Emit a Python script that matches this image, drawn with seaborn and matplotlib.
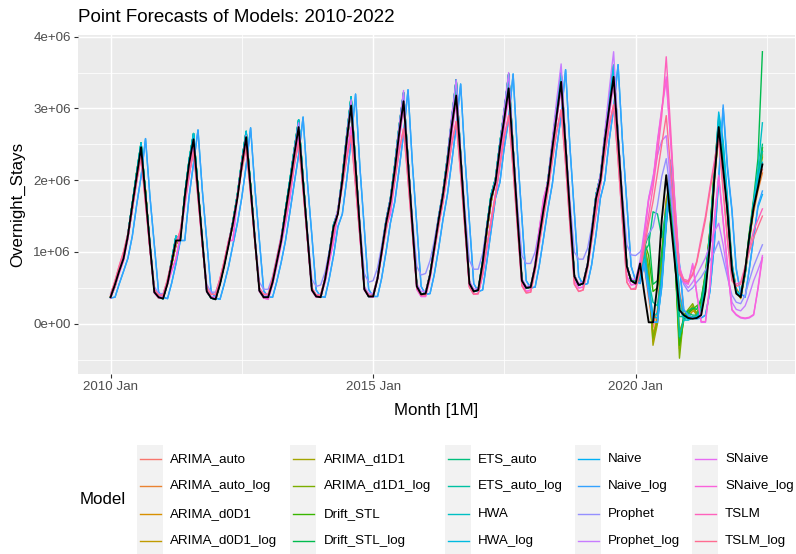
import numpy as np
import pandas as pd
import matplotlib
matplotlib.use("Agg")
import matplotlib.pyplot as plt
import matplotlib.dates as mdates
from matplotlib.lines import Line2D
from matplotlib.patches import Rectangle
from matplotlib.ticker import FixedLocator, FuncFormatter
import seaborn as sns

plt.rcParams["font.family"] = ["Liberation Sans", "DejaVu Sans"]

# ---------------- data (values in units of 10,000 overnight stays) ----------------
months = pd.date_range("2010-01-01", "2022-06-01", freq="MS")

actual = [
    37, 55, 73, 91, 122, 165, 205, 246, 179, 111, 44, 37,
    35, 56, 84, 116, 116, 177, 223, 257, 186, 116, 45, 36,
    34, 55, 80, 110, 140, 175, 220, 260, 189, 117, 46, 37,
    37, 58, 85, 115, 155, 195, 235, 274, 198, 123, 47, 38,
    37, 62, 95, 135, 153, 200, 255, 304, 219, 133, 48, 38,
    38, 63, 100, 140, 170, 215, 265, 310, 224, 138, 52, 41,
    42, 68, 105, 145, 180, 225, 275, 318, 231, 143, 56, 45,
    47, 85, 130, 175, 197, 245, 285, 328, 239, 149, 60, 50,
    51, 80, 120, 160, 195, 245, 290, 337, 247, 156, 66, 54,
    56, 82, 125, 175, 200, 255, 300, 344, 256, 168, 80, 60,
    56, 84, 43, 2, 2, 55, 145, 207, 144, 82, 19, 12,
    8, 7, 8, 12, 45, 110, 200, 274, 215, 157, 75, 42,
    37, 75, 120, 162, 190, 222,
]

# 2010-2019 fitted values shared by groups of models that overlap in the chart
pre_close = [
    38, 52, 75, 93, 120, 160, 210, 240, 185, 108, 47, 36,
    36, 58, 82, 110, 125, 170, 225, 252, 190, 112, 47, 37,
    35, 57, 82, 112, 138, 178, 218, 255, 192, 115, 48, 36,
    36, 60, 86, 118, 150, 192, 238, 270, 200, 120, 49, 38,
    38, 61, 93, 130, 158, 198, 252, 298, 222, 130, 50, 39,
    38, 64, 99, 138, 172, 212, 263, 306, 228, 135, 53, 41,
    43, 69, 104, 146, 178, 222, 272, 314, 234, 140, 57, 45,
    47, 80, 126, 170, 200, 240, 283, 325, 242, 146, 61, 50,
    51, 80, 121, 162, 195, 242, 288, 332, 250, 153, 67, 54,
    56, 83, 124, 172, 202, 252, 298, 340, 258, 165, 80, 60,
]
pre_high = [
    37, 55, 74, 92, 124, 168, 210, 252, 182, 112, 45, 37,
    35, 57, 88, 122, 118, 180, 228, 265, 190, 116, 45, 36,
    34, 56, 82, 112, 143, 180, 226, 268, 192, 118, 47, 37,
    37, 59, 87, 118, 158, 200, 242, 284, 202, 124, 48, 38,
    37, 63, 97, 138, 156, 206, 262, 316, 224, 134, 49, 38,
    38, 64, 102, 144, 174, 222, 275, 322, 230, 139, 53, 41,
    42, 69, 107, 149, 184, 232, 285, 340, 236, 144, 57, 45,
    47, 87, 134, 180, 202, 252, 296, 348, 245, 150, 61, 50,
    51, 81, 123, 165, 200, 252, 302, 350, 252, 157, 67, 54,
    56, 83, 128, 180, 206, 262, 312, 360, 262, 170, 81, 60,
]
pre_lag = [
    36, 37, 55, 73, 91, 122, 165, 205, 258, 179, 111, 44,
    37, 35, 56, 84, 116, 116, 177, 223, 270, 186, 116, 45,
    36, 34, 55, 80, 110, 140, 175, 220, 273, 189, 117, 46,
    37, 37, 58, 85, 115, 155, 195, 235, 288, 198, 123, 47,
    38, 37, 62, 95, 135, 153, 200, 255, 320, 219, 133, 48,
    38, 38, 63, 100, 140, 170, 215, 265, 326, 224, 138, 52,
    41, 42, 68, 105, 145, 180, 225, 275, 334, 231, 143, 56,
    45, 47, 85, 130, 175, 197, 245, 285, 348, 239, 149, 60,
    50, 51, 80, 120, 160, 195, 245, 290, 354, 247, 156, 66,
    54, 56, 82, 125, 175, 200, 255, 300, 361, 256, 168, 80,
]
pre_prophet = [
    42, 58, 76, 96, 125, 165, 205, 238, 175, 112, 52, 42,
    42, 60, 86, 115, 125, 172, 220, 250, 182, 116, 55, 44,
    44, 62, 86, 114, 142, 178, 218, 255, 188, 120, 58, 48,
    48, 66, 92, 122, 155, 192, 235, 268, 198, 128, 62, 52,
    54, 72, 100, 136, 160, 202, 252, 295, 218, 140, 70, 58,
    60, 78, 108, 145, 175, 215, 262, 305, 225, 148, 80, 68,
    70, 88, 115, 150, 185, 225, 272, 312, 235, 158, 88, 76,
    76, 98, 135, 175, 200, 245, 283, 322, 245, 165, 95, 84,
    84, 100, 130, 168, 200, 245, 290, 330, 252, 172, 100, 90,
    90, 105, 135, 178, 205, 255, 298, 338, 262, 180, 110, 96,
]
pre_prophet_log = [
    38, 55, 74, 92, 120, 160, 200, 240, 172, 108, 46, 38,
    37, 57, 84, 113, 122, 172, 220, 255, 182, 113, 47, 38,
    37, 57, 82, 110, 140, 176, 222, 262, 188, 116, 48, 39,
    39, 60, 86, 116, 152, 194, 240, 280, 200, 122, 50, 40,
    40, 63, 95, 133, 158, 204, 262, 312, 222, 132, 52, 42,
    42, 66, 100, 140, 172, 220, 275, 325, 230, 138, 56, 45,
    45, 70, 106, 146, 182, 232, 290, 340, 238, 144, 60, 48,
    49, 82, 128, 172, 200, 250, 300, 350, 245, 150, 63, 52,
    53, 82, 122, 164, 200, 258, 312, 362, 255, 158, 68, 56,
    58, 85, 128, 178, 208, 268, 325, 379, 265, 170, 80, 62,
]
pre_snaive = [
    36, 52, 70, 88, 118, 160, 198, 238, 172, 106, 43, 36,
    37, 55, 73, 91, 122, 165, 205, 246, 179, 111, 44, 37,
    35, 56, 84, 116, 116, 177, 223, 257, 186, 116, 45, 36,
    34, 55, 80, 110, 140, 175, 220, 260, 189, 117, 46, 37,
    37, 58, 85, 115, 155, 195, 235, 274, 198, 123, 47, 38,
    37, 62, 95, 135, 153, 200, 255, 304, 219, 133, 48, 38,
    38, 63, 100, 140, 170, 215, 265, 310, 224, 138, 52, 41,
    42, 68, 105, 145, 180, 225, 275, 318, 231, 143, 56, 45,
    47, 85, 130, 175, 197, 245, 285, 328, 239, 149, 60, 50,
    51, 80, 120, 160, 195, 245, 290, 337, 247, 156, 66, 54,
]
pre_tslm = [
    40, 60, 80, 100, 125, 160, 198, 232, 168, 105, 48, 40,
    40, 62, 86, 112, 130, 170, 208, 240, 175, 110, 50, 41,
    41, 63, 87, 115, 140, 176, 214, 245, 180, 113, 50, 41,
    41, 64, 90, 120, 148, 184, 222, 252, 186, 118, 50, 40,
    40, 64, 93, 126, 155, 192, 230, 262, 192, 122, 49, 40,
    39, 64, 96, 130, 162, 200, 240, 272, 200, 126, 50, 40,
    40, 66, 100, 136, 170, 210, 250, 282, 208, 130, 51, 41,
    42, 70, 106, 142, 178, 220, 260, 290, 215, 134, 53, 43,
    44, 74, 110, 148, 185, 228, 268, 298, 222, 138, 55, 45,
    47, 78, 115, 154, 192, 236, 276, 305, 228, 143, 58, 48,
]

# 2020-2022 values per model
post_arima_auto = [58, 62, 82, 35, -5, 20, 100, 175, 185, 120, 45, 15,
                   10, 8, 12, 20, 55, 115, 200, 270, 240, 165, 80, 45,
                   40, 70, 115, 160, 190, 215]
post_arima_auto_log = [57, 60, 85, 40, 5, 15, 85, 170, 195, 115, 40, 12,
                       9, 8, 10, 18, 50, 110, 195, 265, 245, 160, 78, 44,
                       38, 72, 118, 155, 185, 210]
post_arima_d0d1 = [58, 70, 95, 50, -15, 10, 90, 165, 200, 105, 30, 10,
                   8, 18, 15, 25, 62, 125, 210, 280, 235, 170, 85, 48,
                   35, 68, 115, 165, 195, 235]
post_arima_d0d1_log = [57, 68, 100, 60, -25, 5, 80, 150, 205, 100, -10, 5,
                       12, 22, 12, 28, 68, 130, 215, 285, 230, 168, 82, 50,
                       38, 70, 118, 168, 200, 240]
post_arima_d1d1 = [60, 72, 108, 70, -30, 0, 95, 170, 210, 95, -35, 8,
                   15, 25, 10, 30, 70, 130, 212, 275, 225, 160, 78, 45,
                   36, 72, 120, 165, 195, 245]
post_arima_d1d1_log = [60, 75, 112, 80, -20, 5, 85, 165, 215, 90, -48, 12,
                       20, 28, 14, 32, 72, 128, 208, 272, 228, 158, 80, 46,
                       38, 75, 125, 170, 205, 232]
post_drift_stl = [58, 75, 115, 95, 45, 50, 100, 160, 175, 90, -30, 5,
                  15, 20, 25, 30, 60, 120, 200, 265, 230, 150, 75, 45,
                  40, 70, 110, 165, 210, 245]
post_drift_stl_log = [57, 72, 105, 125, 55, 60, 95, 150, 170, 85, -20, 10,
                      18, 22, 20, 35, 68, 125, 210, 275, 235, 155, 78, 46,
                      40, 75, 125, 175, 230, 379]
post_ets_auto = [58, 70, 100, 110, 156, 153, 120, 160, 185, 100, 10, 10,
                 15, 12, 12, 25, 65, 130, 210, 285, 230, 155, 78, 46,
                 40, 72, 120, 168, 205, 250]
post_ets_auto_log = [57, 68, 95, 60, 30, 25, 70, 140, 190, 110, -18, 5,
                     10, 10, 8, 20, 58, 125, 205, 280, 235, 160, 80, 46,
                     40, 70, 118, 165, 200, 240]
post_hwa = [58, 65, 112, 50, 10, 15, 60, 140, 200, 120, 25, 5,
            5, 8, 10, 18, 52, 120, 205, 290, 250, 170, 82, 46,
            38, 70, 118, 170, 215, 280]
post_hwa_log = [57, 62, 90, 55, 10, 8, 50, 135, 205, 130, 40, 10,
                6, 8, 10, 15, 48, 115, 200, 295, 255, 175, 85, 45,
                38, 72, 120, 168, 205, 225]
post_naive = [60, 56, 84, 43, 2, 2, 55, 145, 220, 144, 82, 19,
              12, 8, 7, 8, 12, 45, 110, 200, 300, 215, 157, 75,
              42, 37, 75, 120, 162, 180]
post_naive_log = [60, 56, 84, 43, 3, 2, 55, 145, 228, 148, 84, 20,
                  12, 8, 7, 8, 12, 45, 110, 205, 305, 220, 160, 78,
                  42, 37, 75, 120, 165, 185]
post_prophet = [95, 100, 110, 125, 135, 165, 205, 230, 180, 120, 70, 55,
                45, 50, 58, 65, 75, 88, 100, 115, 90, 65, 40, 30,
                28, 40, 60, 80, 95, 110]
post_prophet_log = [62, 88, 130, 175, 205, 235, 255, 262, 195, 130, 72, 58,
                    50, 58, 68, 80, 92, 110, 128, 140, 110, 70, 30, 20,
                    18, 25, 40, 60, 75, 92]
post_snaive = [56, 82, 125, 175, 200, 255, 300, 344, 256, 168, 80, 60,
               56, 84, 43, 2, 2, 55, 145, 207, 144, 82, 19, 12,
               8, 7, 8, 12, 50, 95]
post_snaive_log = [55, 80, 122, 172, 198, 252, 298, 340, 253, 165, 78, 58,
                   55, 82, 42, 3, 3, 54, 142, 204, 142, 80, 20, 13,
                   9, 8, 9, 13, 48, 92]
post_tslm = [50, 76, 112, 152, 190, 236, 290, 372, 270, 160, 75, 62,
             60, 70, 87, 120, 150, 190, 225, 262, 190, 120, 62, 55,
             58, 80, 105, 130, 145, 160]
post_tslm_log = [48, 72, 105, 140, 170, 210, 250, 290, 215, 140, 70, 60,
                 58, 68, 85, 115, 145, 185, 220, 255, 185, 115, 60, 52,
                 55, 78, 100, 120, 135, 150]

models = ["ARIMA_auto", "ARIMA_auto_log", "ARIMA_d0D1", "ARIMA_d0D1_log",
          "ARIMA_d1D1", "ARIMA_d1D1_log", "Drift_STL", "Drift_STL_log",
          "ETS_auto", "ETS_auto_log", "HWA", "HWA_log",
          "Naive", "Naive_log", "Prophet", "Prophet_log",
          "SNaive", "SNaive_log", "TSLM", "TSLM_log"]

model_values = {
    "ARIMA_auto": pre_close + post_arima_auto,
    "ARIMA_auto_log": pre_close + post_arima_auto_log,
    "ARIMA_d0D1": pre_close + post_arima_d0d1,
    "ARIMA_d0D1_log": pre_close + post_arima_d0d1_log,
    "ARIMA_d1D1": pre_close + post_arima_d1d1,
    "ARIMA_d1D1_log": pre_close + post_arima_d1d1_log,
    "Drift_STL": pre_high + post_drift_stl,
    "Drift_STL_log": pre_high + post_drift_stl_log,
    "ETS_auto": pre_high + post_ets_auto,
    "ETS_auto_log": pre_high + post_ets_auto_log,
    "HWA": pre_high + post_hwa,
    "HWA_log": pre_high + post_hwa_log,
    "Naive": pre_lag + post_naive,
    "Naive_log": pre_lag + post_naive_log,
    "Prophet": pre_prophet + post_prophet,
    "Prophet_log": pre_prophet_log + post_prophet_log,
    "SNaive": pre_snaive + post_snaive,
    "SNaive_log": pre_snaive + post_snaive_log,
    "TSLM": pre_tslm + post_tslm,
    "TSLM_log": pre_tslm + post_tslm_log,
}

palette_hex = ["#F8766D", "#EA8331", "#D89000", "#C09B00", "#A3A500",
               "#7CAE00", "#39B600", "#00BB4E", "#00BF7D", "#00C1A3",
               "#00BFC4", "#00BAE0", "#00B0F6", "#35A2FF", "#9590FF",
               "#C77CFF", "#E76BF3", "#FA62DB", "#FF62BC", "#FF6C91"]
palette = dict(zip(models, palette_hex))

UNIT = 1e4
frames = []
for m in models:
    frames.append(pd.DataFrame({"Month": months,
                                "Overnight_Stays": np.array(model_values[m]) * UNIT,
                                "Model": m}))
df = pd.concat(frames, ignore_index=True)
df_actual = pd.DataFrame({"Month": months, "Overnight_Stays": np.array(actual) * UNIT})

# ---------------- figure ----------------
W, H = 796, 554
fig = plt.figure(figsize=(W / 100, H / 100), dpi=100)
pl, pr, pt, pb = 78, 795, 34.5, 374
ax = fig.add_axes([pl / W, 1 - pb / H, (pr - pl) / W, (pb - pt) / H])
ax.set_facecolor("#EBEBEB")
ax.set_axisbelow(True)

sns.lineplot(data=df, x="Month", y="Overnight_Stays", hue="Model",
             hue_order=models, palette=palette, estimator=None, errorbar=None,
             legend=False, linewidth=1.0, ax=ax)
sns.lineplot(data=df_actual, x="Month", y="Overnight_Stays", color="black",
             estimator=None, errorbar=None, linewidth=1.35, ax=ax)

# limits with ggplot-like 5% expansion
x0 = mdates.date2num(months[0])
x1 = mdates.date2num(months[-1])
ex = 0.05 * (x1 - x0)
ax.set_xlim(x0 - ex, x1 + ex)
ax.set_ylim(-0.70e6, 4.03e6)

for s in ax.spines.values():
    s.set_visible(False)

major_x = [mdates.date2num(pd.Timestamp(d)) for d in ["2010-01-01", "2015-01-01", "2020-01-01"]]
minor_x = [mdates.date2num(pd.Timestamp(d)) for d in ["2012-07-02", "2017-07-02", "2022-07-02"]]
ax.xaxis.set_major_locator(FixedLocator(major_x))
ax.xaxis.set_minor_locator(FixedLocator(minor_x))
ax.xaxis.set_major_formatter(FuncFormatter(lambda v, p: mdates.num2date(v).strftime("%Y %b")))

ax.yaxis.set_major_locator(FixedLocator([0, 1e6, 2e6, 3e6, 4e6]))
ax.yaxis.set_minor_locator(FixedLocator([-0.5e6, 0.5e6, 1.5e6, 2.5e6, 3.5e6]))
ax.yaxis.set_major_formatter(FuncFormatter(lambda v, p: f"{v:.0e}"))

ax.grid(which="major", color="white", linewidth=1.05)
ax.grid(which="minor", color="white", linewidth=0.55)
ax.tick_params(which="major", length=2.9, width=0.8, color="#333333",
               labelcolor="#4D4D4D", labelsize=9.6, pad=2.2)
ax.tick_params(which="minor", length=0)
ax.set_xlabel("")
ax.set_ylabel("")

# titles
fig.text(pl / W, 1 - 21.5 / H, "Point Forecasts of Models: 2010-2022",
         ha="left", va="baseline", fontsize=13.5, color="black")
fig.text((pl + pr) / 2 / W, 1 - 410 / H, "Month [1M]", ha="center", va="center",
         fontsize=12.2, color="black")
fig.text(18 / W, 1 - (pt + pb) / 2 / H, "Overnight_Stays", ha="center", va="center",
         rotation=90, fontsize=12.2, color="black")

# legend (ggplot style, 4 rows x 5 columns, column-major)
row_y = [459, 486.3, 513.6, 541]
key_x = [137, 290, 445, 575, 692]
text_x = [170, 324, 478, 608, 725]
key_w, key_h = 26, 27.3
fig.text(80 / W, 1 - 500 / H, "Model", ha="left", va="center", fontsize=12.2, color="black")
for i, m in enumerate(models):
    c, r = i // 4, i % 4
    y = row_y[r]
    fig.add_artist(Rectangle((key_x[c] / W, 1 - (y + key_h / 2) / H), key_w / W, key_h / H,
                             transform=fig.transFigure, facecolor="#F2F2F2",
                             edgecolor="none", zorder=1))
    fig.add_artist(Line2D([(key_x[c] + 2.5) / W, (key_x[c] + key_w - 2.5) / W],
                          [1 - y / H, 1 - y / H], transform=fig.transFigure,
                          color=palette[m], linewidth=1.0, zorder=2))
    fig.text(text_x[c] / W, 1 - y / H, m, ha="left", va="center", fontsize=9.6,
             color="black")

fig.savefig("out.png", dpi=100)
